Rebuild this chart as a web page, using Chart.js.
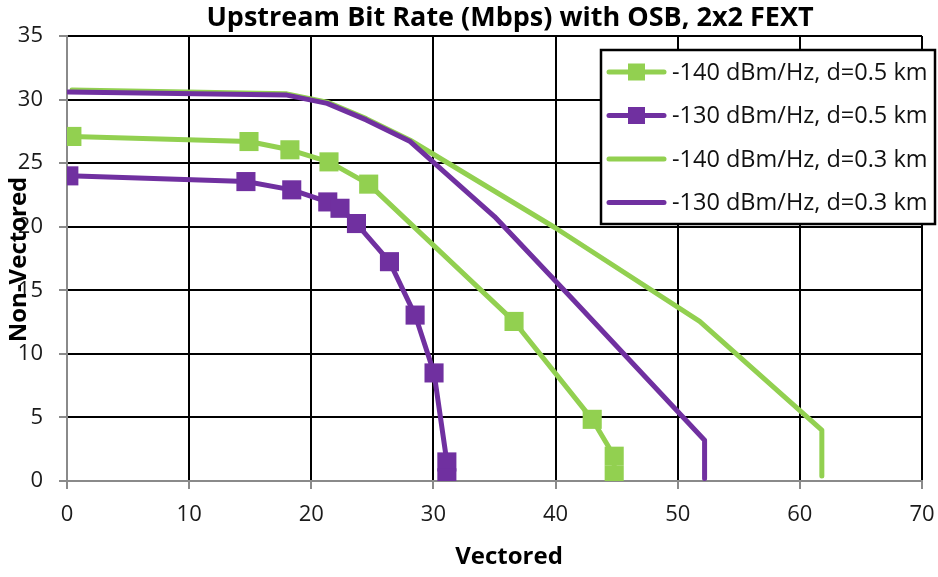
<!DOCTYPE html>
<html>
<head>
<meta charset="utf-8">
<script src="https://cdn.jsdelivr.net/npm/chart.js@4.4.1/dist/chart.umd.min.js"></script>
<style>
  body { margin: 0; background: #fff; }
  canvas { display: block; }
</style>
</head>
<body>
<canvas id="osb-chart" width="938" height="577"></canvas>
<script>
// values (x = vectored, y = non-vectored, Mbps)
var seriesLabels = ['-140 dBm/Hz, d=0.5 km', '-130 dBm/Hz, d=0.5 km', '-140 dBm/Hz, d=0.3 km', '-130 dBm/Hz, d=0.3 km'];
var vec140_05 = [0.4, 14.9, 18.25, 21.45, 24.7, 36.6, 43.0, 44.8, 44.8];
var non140_05 = [27.1, 26.7, 26.05, 25.1, 23.35, 12.55, 4.85, 1.95, 0.45];
var vec130_05 = [0.15, 14.65, 18.4, 21.35, 22.35, 23.7, 26.4, 28.5, 30.05, 31.1, 31.1];
var non130_05 = [24.0, 23.55, 22.9, 21.95, 21.45, 20.25, 17.25, 13.05, 8.5, 1.5, 0.25];
var vec140_03 = [0.4, 18.0, 21.3, 24.5, 28.1, 40.0, 51.8, 61.8, 61.8];
var non140_03 = [30.75, 30.45, 29.8, 28.5, 26.8, 19.9, 12.55, 4.0, 0.4];
var vec130_03 = [0.1, 18.0, 21.3, 24.5, 28.1, 35.0, 41.5, 52.2, 52.2];
var non130_03 = [30.6, 30.35, 29.7, 28.4, 26.7, 20.8, 14.2, 3.2, 0.2];
var xTicks = [0, 10, 20, 30, 40, 50, 60, 70];
var yTicks = [0, 5, 10, 15, 20, 25, 30, 35];

var titleText = 'Upstream Bit Rate (Mbps) with OSB, 2x2 FEXT';
var green = '#92D050';
var purple = '#7030A0';
var fontName = '"Open Sans", sans-serif';

function pts(xs, ys) {
  return xs.map(function (x, i) { return { x: x, y: ys[i] }; });
}

function series(label, xs, ys, color, marker, order) {
  return {
    label: label,
    data: pts(xs, ys),
    borderColor: color,
    backgroundColor: color,
    borderWidth: 5,
    borderCapStyle: 'round',
    borderJoinStyle: 'round',
    pointStyle: 'rect',
    pointRadius: marker ? 13.5 : 0,
    pointBorderWidth: 0,
    pointHoverRadius: marker ? 13.5 : 0,
    tension: 0,
    order: order
  };
}

// titles and the boxed legend sit over the plot like in the Excel original
var overlay = {
  id: 'overlay',
  afterDraw: function (chart) {
    var ctx = chart.ctx;
    var area = chart.chartArea;
    ctx.save();
    ctx.fillStyle = '#000';
    ctx.textAlign = 'center';
    ctx.textBaseline = 'middle';
    ctx.font = 'bold 27px ' + fontName;
    ctx.fillText(titleText, 510, 18);
    ctx.font = 'bold 24px ' + fontName;
    ctx.fillText('Vectored', 509, 557);
    ctx.translate(19, (area.top + area.bottom) / 2 + 1);
    ctx.rotate(-Math.PI / 2);
    ctx.fillText('Non-Vectored', 0, 0);
    ctx.restore();

    ctx.save();
    ctx.fillStyle = '#fff';
    ctx.fillRect(601, 50, 334, 174);
    ctx.strokeStyle = '#000';
    ctx.lineWidth = 2.5;
    ctx.strokeRect(601, 50, 334, 174);
    chart.data.datasets.forEach(function (ds, i) {
      var y = 72 + i * 43.5;
      ctx.strokeStyle = ds.borderColor;
      ctx.lineWidth = 5;
      ctx.lineCap = 'round';
      ctx.beginPath();
      ctx.moveTo(609, y);
      ctx.lineTo(664, y);
      ctx.stroke();
      if (ds.pointRadius > 0) {
        ctx.fillStyle = ds.borderColor;
        ctx.fillRect(628, y - 8.5, 17, 17);
      }
      ctx.fillStyle = '#111';
      ctx.font = '23.5px ' + fontName;
      ctx.textAlign = 'left';
      ctx.textBaseline = 'middle';
      ctx.fillText(ds.label, 672, y + 1);
    });
    ctx.restore();
  }
};

var ctx = document.getElementById('osb-chart').getContext('2d');

var osbChart = new Chart(ctx, {
  type: 'line',
  data: {
    datasets: [
      series(seriesLabels[0], vec140_05, non140_05, green, true, 1),
      series(seriesLabels[1], vec130_05, non130_05, purple, true, 0),
      series(seriesLabels[2], vec140_03, non140_03, green, false, 3),
      series(seriesLabels[3], vec130_03, non130_03, purple, false, 2)
    ]
  },
  options: {
    responsive: false,
    animation: false,
    layout: { padding: { left: 0, right: 16, top: 36, bottom: 0 } },
    plugins: {
      legend: { display: false },
      title: { display: false },
      tooltip: { enabled: false }
    },
    scales: {
      x: {
        type: 'linear',
        min: xTicks[0],
        max: xTicks[xTicks.length - 1],
        afterBuildTicks: function (scale) {
          scale.ticks = xTicks.map(function (v) { return { value: v }; });
        },
        afterFit: function (scale) {
          scale.height = 96;
          scale.paddingLeft = 0;
          scale.paddingRight = 0;
        },
        grid: { color: '#000', lineWidth: 2, tickColor: '#8a8a8a', tickLength: 8, tickWidth: 2 },
        border: { color: '#8a8a8a', width: 2 },
        ticks: { color: '#1a1a1a', padding: 13, font: { family: fontName, size: 22 } }
      },
      y: {
        type: 'linear',
        min: yTicks[0],
        max: yTicks[yTicks.length - 1],
        afterBuildTicks: function (scale) {
          scale.ticks = yTicks.map(function (v) { return { value: v }; });
        },
        afterFit: function (scale) {
          scale.width = 67;
          scale.paddingTop = 0;
          scale.paddingBottom = 0;
        },
        grid: { color: '#000', lineWidth: 2, tickColor: '#8a8a8a', tickLength: 8, tickWidth: 2 },
        border: { color: '#8a8a8a', width: 2 },
        ticks: { color: '#1a1a1a', padding: 16, font: { family: fontName, size: 22 } }
      }
    }
  },
  plugins: [overlay]
});
</script>
</body>
</html>
